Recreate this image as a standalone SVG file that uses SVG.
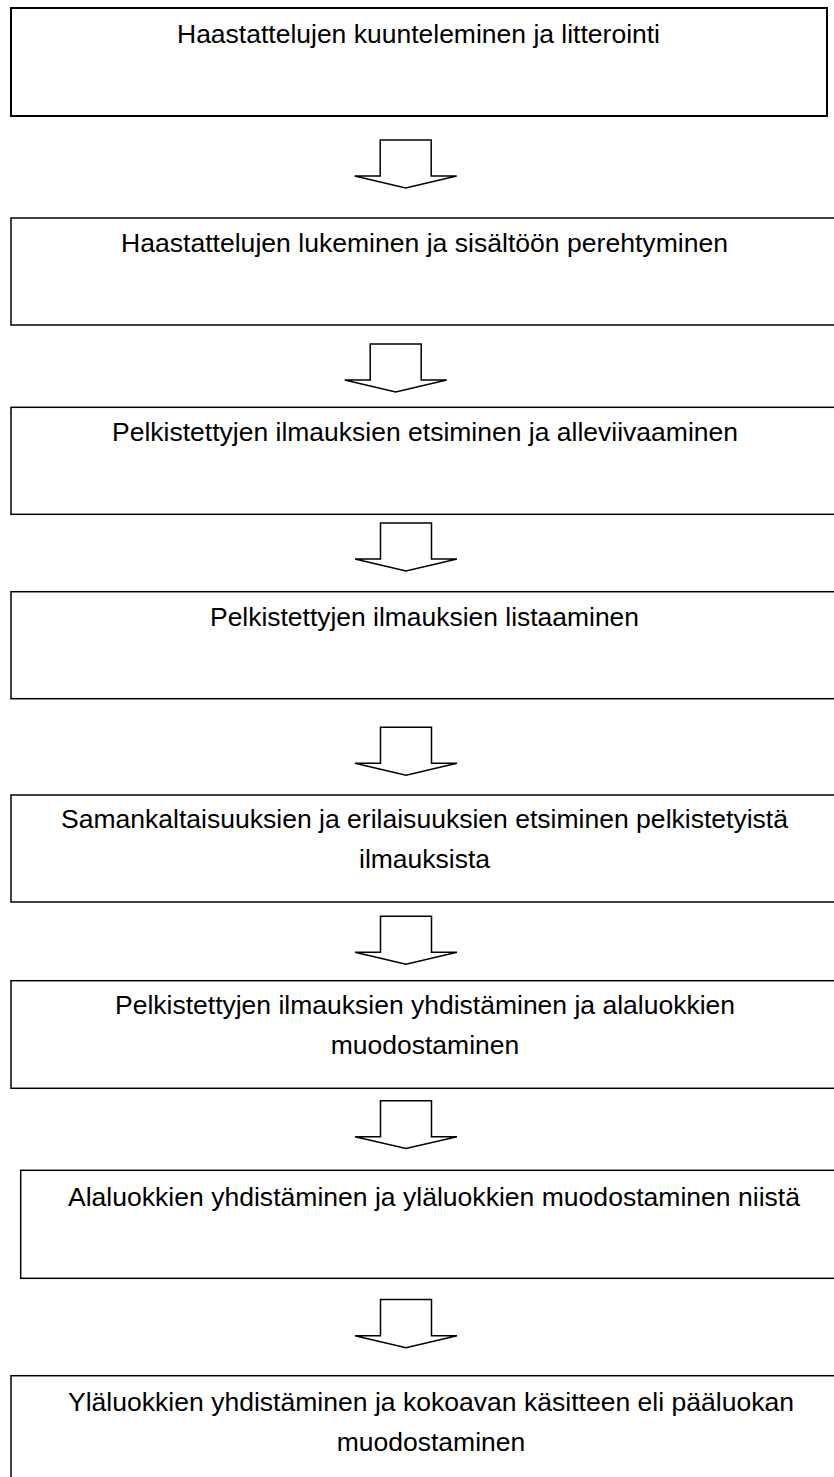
<svg xmlns="http://www.w3.org/2000/svg" width="834" height="1477" viewBox="0 0 834 1477">
<style>
.box{fill:#fff;stroke:#000;stroke-width:1.5}
.b1{stroke-width:2}
.arr{fill:#fff;stroke:#000;stroke-width:1.5;stroke-linejoin:miter}
text{font-family:"Liberation Sans",Arial,sans-serif;font-size:25px;fill:#000;text-anchor:middle}
</style>
<rect width="834" height="1477" fill="#fff"/>
<g id="connectors">
<polygon class="arr" points="380.2,140 431.2,140 431.2,176 456.7,176 405.7,188 354.7,176 380.2,176"/>
<polygon class="arr" points="370.2,344 421.2,344 421.2,380 446.7,380 395.7,392 344.7,380 370.2,380"/>
<polygon class="arr" points="380.5,523 431.5,523 431.5,559 457,559 406,571 355,559 380.5,559"/>
<polygon class="arr" points="380.5,727.3 431.5,727.3 431.5,763.3 457,763.3 406,775.3 355,763.3 380.5,763.3"/>
<polygon class="arr" points="380.5,916.3 431.5,916.3 431.5,952.3 457,952.3 406,964.3 355,952.3 380.5,952.3"/>
<polygon class="arr" points="380.5,1100.7 431.5,1100.7 431.5,1136.7 457,1136.7 406,1148.5 355,1136.7 380.5,1136.7"/>
<polygon class="arr" points="380.5,1299.5 431.5,1299.5 431.5,1335.7 457,1335.7 406,1347.7 355,1335.7 380.5,1335.7"/>
</g>
<g id="node1">
<rect class="box b1" x="11" y="8" width="816" height="108"/>
<text x="418.5" y="42.7" textLength="483" lengthAdjust="spacingAndGlyphs">Haastattelujen kuunteleminen ja litterointi</text>
</g>
<g id="node2">
<rect class="box" x="11" y="218" width="840" height="107"/>
<text x="424.5" y="252" textLength="607" lengthAdjust="spacingAndGlyphs">Haastattelujen lukeminen ja sisältöön perehtyminen</text>
</g>
<g id="node3">
<rect class="box" x="11" y="407.3" width="840" height="107"/>
<text x="425" y="441" textLength="626" lengthAdjust="spacingAndGlyphs">Pelkistettyjen ilmauksien etsiminen ja alleviivaaminen</text>
</g>
<g id="node4">
<rect class="box" x="11" y="591.7" width="840" height="107"/>
<text x="424.5" y="626" textLength="429" lengthAdjust="spacingAndGlyphs">Pelkistettyjen ilmauksien listaaminen</text>
</g>
<g id="node5">
<rect class="box" x="11" y="795" width="840" height="107"/>
<text x="424.5" y="828.3" textLength="727" lengthAdjust="spacingAndGlyphs">Samankaltaisuuksien ja erilaisuuksien etsiminen pelkistetyistä</text>
<text x="424.5" y="868.3" textLength="131" lengthAdjust="spacingAndGlyphs">ilmauksista</text>
</g>
<g id="node6">
<rect class="box" x="11" y="980.7" width="840" height="107.6"/>
<text x="425" y="1014.3" textLength="620" lengthAdjust="spacingAndGlyphs">Pelkistettyjen ilmauksien yhdistäminen ja alaluokkien</text>
<text x="425" y="1054.3" textLength="188.5" lengthAdjust="spacingAndGlyphs">muodostaminen</text>
</g>
<g id="node7">
<rect class="box" x="20.7" y="1170.3" width="840" height="108"/>
<text x="434" y="1205.7" textLength="732" lengthAdjust="spacingAndGlyphs">Alaluokkien yhdistäminen ja yläluokkien muodostaminen niistä</text>
</g>
<g id="node8">
<rect class="box" x="11" y="1375.7" width="840" height="120"/>
<text x="431" y="1411" textLength="726" lengthAdjust="spacingAndGlyphs">Yläluokkien yhdistäminen ja kokoavan käsitteen eli pääluokan</text>
<text x="431" y="1451" textLength="188.5" lengthAdjust="spacingAndGlyphs">muodostaminen</text>
</g>
</svg>
